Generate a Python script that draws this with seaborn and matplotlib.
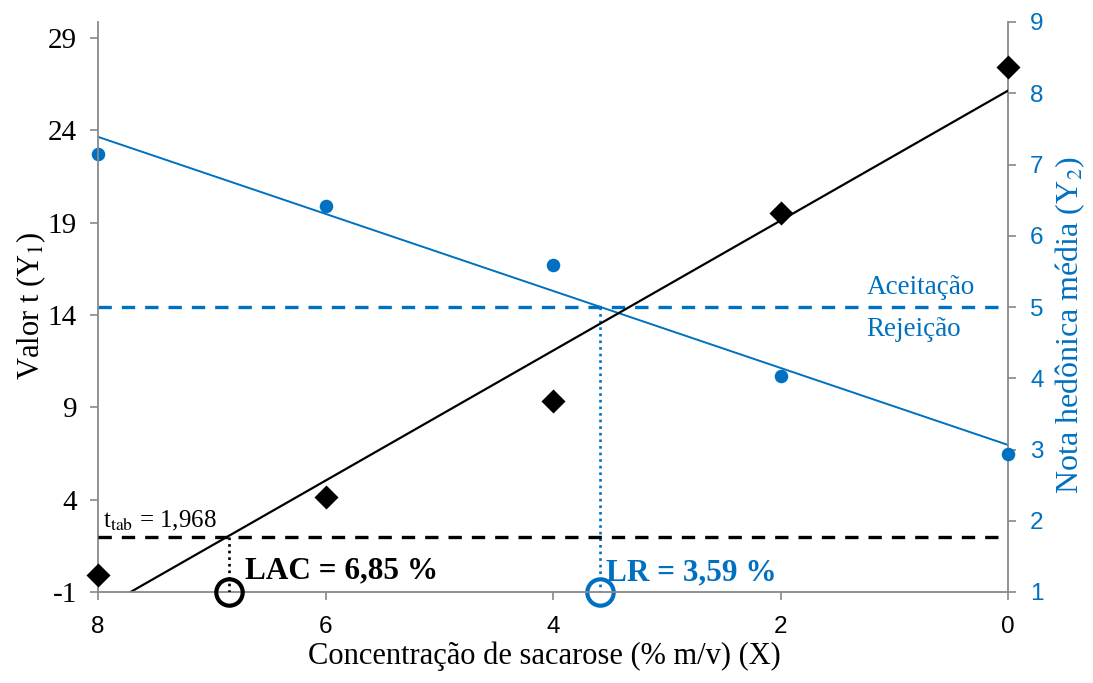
import numpy as np
import pandas as pd
import matplotlib
matplotlib.use("Agg")
import matplotlib.pyplot as plt
import seaborn as sns

# ---- data ----
sacarose = [8, 6, 4, 2, 0]
valor_t = [-0.08, 4.14, 9.34, 19.52, 27.42]
nota_hedonica = [7.15, 6.42, 5.59, 4.03, 2.94]
t_tab = 1.968
aceitacao = 5.0
lac = 6.85
lr = 3.59
xticks = [8, 6, 4, 2, 0]
yticks_left = [-1, 4, 9, 14, 19, 24, 29]
yticks_right = [1, 2, 3, 4, 5, 6, 7, 8, 9]

BLUE = "#0070C0"
GRAY = "#898989"

sns.set_theme(style="white")
plt.rcParams["font.family"] = ["Liberation Serif", "DejaVu Serif"]
plt.rcParams["mathtext.fontset"] = "stix"
plt.rcParams["text.color"] = "black"
plt.rcParams["axes.labelcolor"] = "black"
plt.rcParams["xtick.color"] = "black"
plt.rcParams["ytick.color"] = "black"

df = pd.DataFrame({"x": sacarose, "t": valor_t, "nota": nota_hedonica})

fig = plt.figure(figsize=(10.93, 6.83), dpi=100)
ax = fig.add_axes([98 / 1093, 1 - 592 / 683, 910 / 1093, 570 / 683])
ax2 = ax.twinx()

sns.regplot(data=df, x="x", y="t", ax=ax, ci=None, truncate=True,
            marker="D", color="black",
            scatter_kws=dict(s=150, clip_on=False, zorder=5, linewidths=0, alpha=1),
            line_kws=dict(lw=1.6, color="black"))
sns.regplot(data=df, x="x", y="nota", ax=ax2, ci=None, truncate=True,
            marker="o", color=BLUE,
            scatter_kws=dict(s=95, clip_on=False, zorder=5, linewidths=0, alpha=1),
            line_kws=dict(lw=1.4, color=BLUE))

ax.set_xlim(8, 0)
ax.set_ylim(-1, 29.86)
ax2.set_ylim(1, 9)

# reference lines
ax.axhline(t_tab, color="black", lw=2.4, ls=(0, (4, 3)), zorder=3)
ax2.axhline(aceitacao, color=BLUE, lw=2.4, ls=(0, (4, 3)), zorder=3)
ax.plot([lac, lac], [t_tab, -1], color="black", lw=1.9, ls=(0, (1, 1.5)), zorder=3)
ax2.plot([lr, lr], [aceitacao, 1], color=BLUE, lw=1.9, ls=(0, (1, 1.5)), zorder=3)

ax.plot([lac], [-1], marker="o", ms=19, mfc="none", mec="black", mew=3,
        clip_on=False, zorder=6)
ax2.plot([lr], [1], marker="o", ms=19, mfc="none", mec=BLUE, mew=3,
         clip_on=False, zorder=6)

# texts
ax.text(6.71, 0.15, "LAC = 6,85 %", fontsize=22.5, fontweight="bold",
        color="black", va="center", ha="left")
ax2.text(3.53, 1.27, "LR = 3,59 %", fontsize=22.5, fontweight="bold",
         color=BLUE, va="center", ha="left")
ax.text(7.96, 2.5, r"t$_{\mathrm{tab}}$ = 1,968", fontsize=18,
        color="black", va="baseline", ha="left")
ax2.text(0.77, 5.1, "Aceitação", fontsize=19.5, color=BLUE, va="bottom", ha="center")
ax2.text(0.83, 4.68, "Rejeição", fontsize=19.5, color=BLUE, va="center", ha="center")

# axes styling
ax.set_xticks(xticks)
ax.set_yticks(yticks_left)
ax2.set_yticks(yticks_right)
ax.set_xticklabels([str(v) for v in xticks], fontfamily="Liberation Sans", fontsize=17.5)
ax.set_yticklabels([str(v) for v in yticks_left], fontsize=21)
ax2.set_yticklabels([str(v) for v in yticks_right], fontfamily="Liberation Sans",
                    fontsize=17.5, color=BLUE)

ax.set_xlabel("Concentração de sacarose (% m/v) (X)", fontsize=22)
ax.set_ylabel(r"Valor t (Y$_1$)", fontsize=22)
ax2.set_ylabel(r"Nota hedônica média (Y$_2$)", fontsize=23, color=BLUE)
ax.yaxis.set_label_coords(-0.055, 0.502)
ax2.yaxis.set_label_coords(1.050, 0.468)
ax.xaxis.set_label_coords(0.49, -0.087)

for a in (ax, ax2):
    a.spines["top"].set_visible(False)
    for s in ("left", "right", "bottom"):
        a.spines[s].set_color(GRAY)
        a.spines[s].set_linewidth(1.3)
    a.grid(False)
ax.spines["right"].set_visible(False)
ax2.spines["left"].set_visible(False)
ax2.spines["bottom"].set_visible(False)

ax.tick_params(axis="both", direction="out", length=6, width=1.2, color=GRAY,
               labelcolor="black", left=True, bottom=True)
ax.tick_params(axis="y", pad=9)
ax.tick_params(axis="x", pad=11)
ax2.tick_params(axis="y", direction="out", length=6, width=1.2, color=GRAY,
                labelcolor=BLUE, right=True, pad=10)

ax.set_zorder(ax2.get_zorder() + 1)
ax.patch.set_visible(False)

fig.savefig("out.png", dpi=100)
